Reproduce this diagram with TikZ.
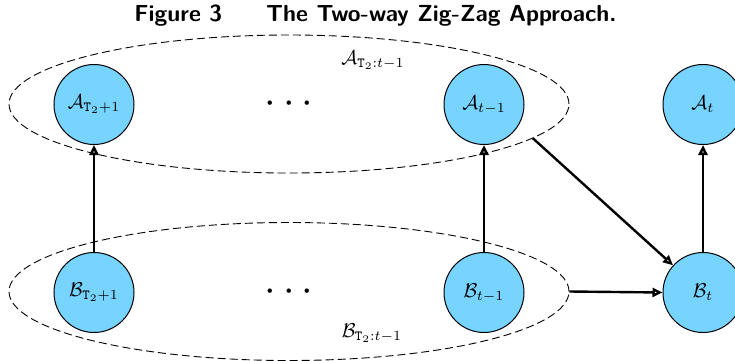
\documentclass[tikz,border=0pt]{standalone}
\usepackage{fontspec}
\usetikzlibrary{shapes.geometric,arrows.meta}
\definecolor{nodeblue}{RGB}{118,212,255}
\tikzset{
  var/.style={circle,draw=black,line width=0.5pt,fill=nodeblue,minimum size=40pt,inner sep=0pt},
  group/.style={ellipse,draw=black,line width=0.45pt,dash pattern=on 4pt off 2pt,minimum width=280pt,minimum height=69pt,inner sep=0pt},
  link/.style={line width=1.2pt,-{Triangle[open,length=5pt,width=4.5pt]}},
  dotsnode/.style={font=\huge,inner sep=0pt},
  titlenode/.style={font=\fontsize{11.6}{14}\selectfont\sffamily\bfseries,inner sep=0pt}
}
\begin{document}
\begin{tikzpicture}[x=0.5pt,y=-0.5pt]
\useasboundingbox (0,0) rectangle (735,360);
\node[titlenode] (title) at (375.5,16) {Figure 3\hspace{22pt}The Two-way Zig-Zag Approach.};
\node[group] (ellA) at (289,104) {};
\node[group] (ellB) at (289,291.5) {};
\node (labA) at (373,60) {$\mathcal{A}_{\mathtt{T}_2:t-1}$};
\node (labB) at (372,333) {$\mathcal{B}_{\mathtt{T}_2:t-1}$};
\node[var] (a1) at (94,104.5) {$\mathcal{A}_{\mathtt{T}_2+1}$};
\node[var] (a2) at (484,104.5) {$\mathcal{A}_{t-1}$};
\node[var] (a3) at (703,104.5) {$\mathcal{A}_{t}$};
\node[var] (b1) at (94,292.5) {$\mathcal{B}_{\mathtt{T}_2+1}$};
\node[var] (b2) at (484,292.5) {$\mathcal{B}_{t-1}$};
\node[var] (b3) at (703,292.5) {$\mathcal{B}_{t}$};
\node[dotsnode] (dA) at (289,104) {$\cdots$};
\node[dotsnode] (dB) at (289,292) {$\cdots$};
\draw[link] (b1) -- (a1);
\draw[link] (b2) -- (a2);
\draw[link] (b3) -- (a3);
\draw[link] (ellA.-8) -- (b3);
\draw[link] (ellB.east) -- (b3.west);
\end{tikzpicture}
\end{document}
